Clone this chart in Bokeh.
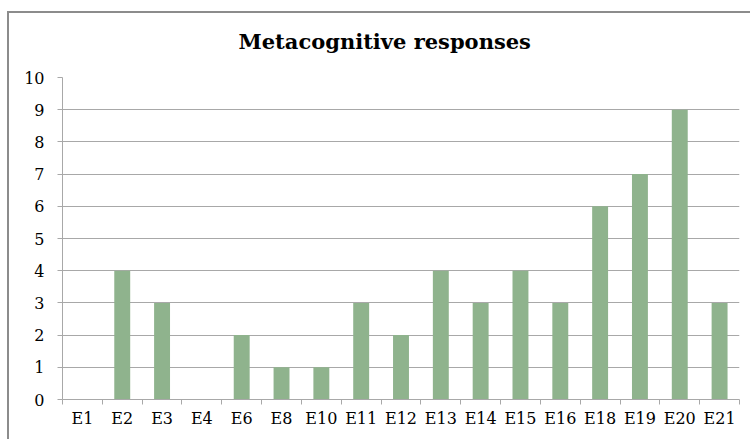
from bokeh.plotting import figure
from bokeh.models import Range1d, FixedTicker
from bokeh.embed import file_html
from bokeh.resources import INLINE

# Response counts per exercise
categories = ["E1", "E2", "E3", "E4", "E6", "E8", "E10", "E11", "E12",
              "E13", "E14", "E15", "E16", "E18", "E19", "E20", "E21"]
responses = [0, 4, 3, 0, 2, 1, 1, 3, 2, 4, 3, 4, 3, 6, 7, 9, 3]
y_ticks = list(range(0, 11))

FONT = "DejaVu Serif"
GRID = "#a8a8a8"
BAR = "#8fb38d"
EDGE = "#8c8c8c"

# one slot per category on a numeric axis: bars at slot centres, ticks at slot edges
centres = [i + 0.5 for i in range(len(categories))]
edges = list(range(len(categories) + 1))

# chart-area frame lines (left and top) painted behind a transparent border
frame_bg = (
    f"linear-gradient({EDGE},{EDGE}) 7px 11px / 2px 100% no-repeat, "
    f"linear-gradient({EDGE},{EDGE}) 7px 11px / 100% 2px no-repeat, white"
)

p = figure(
    width=750, height=439,
    output_backend="svg", toolbar_location=None,
    x_range=Range1d(0, len(categories)), y_range=Range1d(0, 10),
    min_border_left=62, min_border_right=11,
    min_border_top=77, min_border_bottom=40,
    title="Metacognitive responses",
    styles={"background": frame_bg},
)
p.outline_line_color = None
p.background_fill_color = "white"
p.border_fill_color = None

p.title.align = "left"
p.title.offset = 176
p.title.standoff = 48
p.title.text_font = FONT
p.title.text_font_style = "bold"
p.title.text_font_size = "21px"
p.title.text_color = "black"

p.vbar(x=centres, top=responses, width=0.4, fill_color=BAR, line_color=None)

# x axis: labels at centres, short marks at category edges
xa = p.xaxis[0]
xa.ticker = FixedTicker(ticks=centres, minor_ticks=edges)
xa.major_label_overrides = {c: lab for c, lab in zip(centres, categories)}
xa.major_tick_line_color = None
xa.major_tick_out = 0
xa.major_tick_in = 0
xa.minor_tick_line_color = GRID
xa.minor_tick_out = 5
xa.minor_tick_in = 0
xa.axis_line_color = GRID
xa.major_label_text_font = FONT
xa.major_label_text_font_size = "16px"
xa.major_label_text_color = "black"
xa.major_label_standoff = 4
p.xgrid.visible = False

# y axis
ya = p.yaxis[0]
ya.ticker = FixedTicker(ticks=y_ticks)
ya.major_tick_line_color = GRID
ya.major_tick_out = 5
ya.major_tick_in = 0
ya.minor_tick_line_color = None
ya.axis_line_color = GRID
ya.major_label_text_font = FONT
ya.major_label_text_font_size = "16px"
ya.major_label_text_color = "black"
ya.major_label_standoff = 13
p.ygrid.grid_line_color = GRID
p.ygrid.grid_line_width = 1

open("out.html", "w").write(file_html(p, INLINE))
